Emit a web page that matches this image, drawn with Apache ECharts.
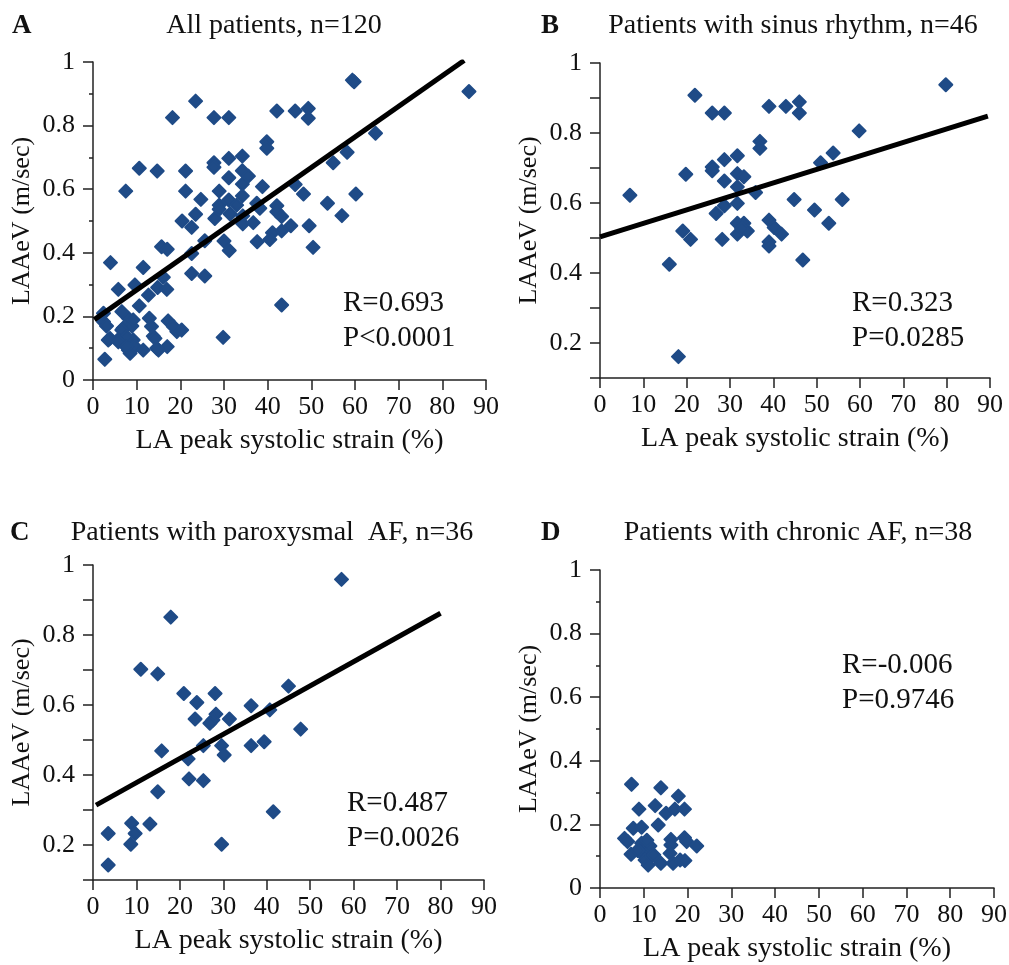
<!DOCTYPE html>
<html>
<head>
<meta charset="utf-8">
<script src="https://cdn.jsdelivr.net/npm/echarts@6/dist/echarts.min.js"></script>
<style>
html,body{margin:0;padding:0;background:#fff;}
#chart{width:1009px;height:965px;}
</style>
</head>
<body>
<div id="chart"></div>
<script>
// ---------- DATA ----------
const titles = ['All patients, n=120', 'Patients with sinus rhythm, n=46', 'Patients with paroxysmal  AF, n=36', 'Patients with chronic AF, n=38'];
const panelLetters = ['A', 'B', 'C', 'D'];
const statsR = ['R=0.693', 'R=0.323', 'R=0.487', 'R=-0.006'];
const statsP = ['P<0.0001', 'P=0.0285', 'P=0.0026', 'P=0.9746'];
const xName = 'LA peak systolic strain (%)';
const yName = 'LAAeV (m/sec)';

const aPts = [
[7.5,0.594],[10.6,0.666],[14.7,0.657],[18.2,0.825],[23.5,0.877],[27.7,0.825],[31.1,0.825],[42.1,0.846],[46.3,0.846],[49.3,0.854],
[49.3,0.823],[39.8,0.749],[39.8,0.729],[21.2,0.657],[27.7,0.683],[27.7,0.669],[31.1,0.697],[34.2,0.704],[21.2,0.594],[24.7,0.568],
[28.9,0.594],[31.1,0.636],[34.2,0.658],[34.2,0.616],[35.6,0.641],[38.8,0.608],[34.2,0.579],[37.5,0.556],[42.1,0.548],[42.1,0.529],
[46.3,0.615],[48.2,0.585],[28.9,0.550],[31.1,0.566],[23.5,0.521],[20.4,0.500],
[59.4,0.943],[59.8,0.938],[86.1,0.907],[64.7,0.776],[58.2,0.716],[55.0,0.683],[60.2,0.585],[53.7,0.556],[57.0,0.517],[45.3,0.485],
[49.5,0.485],[50.4,0.417],[43.2,0.514],[43.2,0.469],[43.2,0.236],
[22.6,0.480],[27.9,0.508],[28.9,0.537],[31.4,0.522],[32.9,0.550],[34.3,0.516],[34.3,0.491],[36.7,0.495],[38.2,0.540],
[41.1,0.463],[40.5,0.442],[37.6,0.435],[30.0,0.437],[31.2,0.407],[25.6,0.438],[22.6,0.398],[22.6,0.335],[25.6,0.327],[15.7,0.419],
[17.0,0.411],[4.0,0.369],[11.5,0.354],[9.6,0.299],[5.8,0.285],[12.7,0.267],[14.8,0.291],[16.9,0.285],[16.1,0.323],[10.6,0.233],
[2.4,0.183],[3.1,0.170],[3.9,0.131],[2.7,0.065],[6.0,0.131],[6.9,0.163],[8.1,0.194],[8.9,0.170],[6.9,0.115],[8.1,0.094],
[8.5,0.084],[9.2,0.126],[9.6,0.105],[11.5,0.094],[12.9,0.194],[13.4,0.168],[13.8,0.138],[15.0,0.094],[17.0,0.105],[17.2,0.186],
[19.2,0.152],[20.3,0.157],[29.8,0.134],
[6.6,0.215],[6.6,0.157],[9.2,0.189],[7.7,0.136],[3.5,0.126],[5.8,0.120],[7.7,0.105],[14.2,0.131],[14.6,0.100],[18.4,0.168],[2.4,0.210]
];
const bPts = [
[21.9,0.908],[25.9,0.857],[28.7,0.857],[39.0,0.876],[42.9,0.876],[46.0,0.889],[46.0,0.857],
[36.9,0.776],[36.9,0.756],[28.7,0.724],[31.7,0.735],[25.9,0.703],[25.9,0.692],[19.8,0.682],[6.9,0.622],
[28.7,0.663],[31.7,0.684],[33.2,0.675],[31.7,0.646],[35.9,0.630],[44.8,0.610],[31.7,0.599],[28.7,0.592],[26.8,0.570],
[39.0,0.551],[40.2,0.530],[41.9,0.511],[31.7,0.542],[33.2,0.542],[31.7,0.511],[34.0,0.520],[32.7,0.527],
[39.0,0.489],[39.0,0.477],[19.1,0.520],[20.9,0.496],[28.2,0.496],[16.0,0.425],[18.1,0.161],
[79.8,0.938],[59.8,0.806],[53.8,0.743],[50.9,0.715],[55.9,0.610],[49.5,0.580],[52.8,0.542],[46.8,0.437]
];
const cPts = [
[17.9,0.851],[11.0,0.702],[14.9,0.689],[20.9,0.633],[23.9,0.607],[28.1,0.633],[36.4,0.598],[40.7,0.586],[45.0,0.654],
[23.5,0.560],[28.3,0.574],[27.6,0.557],[26.9,0.548],[31.4,0.560],[47.8,0.531],[15.8,0.469],[25.4,0.484],[29.6,0.484],
[30.2,0.457],[21.9,0.446],[36.4,0.484],[39.4,0.495],[22.1,0.389],[25.4,0.384],[14.9,0.352],[41.5,0.295],
[8.9,0.262],[9.7,0.233],[13.1,0.260],[3.5,0.233],[8.7,0.202],[29.6,0.202],[3.5,0.143],[57.2,0.959]
];
const dPts = [
[7.2,0.326],[13.9,0.315],[17.9,0.289],[8.9,0.248],[12.6,0.259],[15.1,0.235],[17.1,0.248],[19.3,0.248],
[7.6,0.188],[9.5,0.191],[13.3,0.198],[5.6,0.156],[6.3,0.146],[9.5,0.141],[10.3,0.125],[16.2,0.153],
[16.2,0.135],[19.3,0.158],[19.8,0.146],[22.1,0.132],[7.1,0.106],[9.5,0.109],[11.3,0.114],[10.3,0.088],
[11.0,0.072],[13.9,0.078],[16.0,0.109],[16.7,0.078],[18.3,0.088],[19.4,0.086],[11.8,0.099],[9.1,0.125],
[11.4,0.132],[12.3,0.104],[10.7,0.150],[8.6,0.118]
];
const aFit = [[0.3, 0.190], [85, 1.005]];
const bFit = [[0, 0.503], [89.5, 0.848]];
const cFit = [[0.7, 0.314], [80, 0.862]];

// ---------- LAYOUT ----------
const FONT = "'Liberation Serif','Times New Roman',serif";
const MARK = '#1f4b87';
const grids = [
  {left: 93, top: 62, width: 393, height: 318},
  {left: 600, top: 63, width: 390, height: 315},
  {left: 93, top: 565, width: 391, height: 315},
  {left: 600, top: 570, width: 394, height: 318}
];
const yMins = [0, 0.1, 0.1, 0];

function xAxisFor(i) {
  return {
    gridIndex: i, type: 'value', min: 0, max: 90, interval: 10,
    name: xName, nameLocation: 'middle', nameGap: 47,
    nameTextStyle: {fontFamily: FONT, fontSize: 28, color: '#111'},
    axisLine: {show: true, onZero: false, lineStyle: {color: '#222', width: 1.5}},
    axisTick: {show: true, length: 10, inside: false, lineStyle: {color: '#222', width: 1.5}},
    axisLabel: {show: true, margin: 14, fontFamily: FONT, fontSize: 26, color: '#111', hideOverlap: false},
    splitLine: {show: false}
  };
}
function yAxisFor(i) {
  const mn = yMins[i];
  const base = {
    gridIndex: i, type: 'value', max: 1,
    name: yName, nameLocation: 'middle', nameGap: 58, nameRotate: 90,
    nameTextStyle: {fontFamily: FONT, fontSize: 26, color: '#111'},
    axisLine: {show: true, onZero: false, lineStyle: {color: '#222', width: 1.5}},
    axisTick: {show: true, length: 10, lineStyle: {color: '#222', width: 1.5}},
    splitLine: {show: false}
  };
  if (mn === 0) {
    base.min = 0; base.interval = 0.2;
    base.minorTick = {show: true, splitNumber: 2, length: 4, lineStyle: {color: '#222', width: 1.5}};
    base.axisLabel = {margin: 18, fontFamily: FONT, fontSize: 26, color: '#111', hideOverlap: false,
      formatter: v => { const k = Math.round(v * 10); return k === 10 ? '1' : k === 0 ? '0' : (k / 10).toFixed(1); }};
  } else {
    base.min = 0.1; base.interval = 0.1;
    base.axisLabel = {margin: 18, fontFamily: FONT, fontSize: 26, color: '#111', hideOverlap: false,
      formatter: v => { const k = Math.round(v * 10); if (k % 2) return ''; return k === 10 ? '1' : (k / 10).toFixed(1); }};
  }
  return base;
}

const scatterSets = [aPts, bPts, cPts, dPts];
const fitSets = [aFit, bFit, cFit, null];
const series = [];
scatterSets.forEach((pts, i) => {
  series.push({type: 'scatter', xAxisIndex: i, yAxisIndex: i, data: pts, symbol: 'diamond', symbolSize: [13, 13],
    itemStyle: {color: MARK, opacity: 1, borderColor: MARK, borderWidth: 2, borderJoin: 'round'}, z: 2, silent: true});
});
fitSets.forEach((f, i) => {
  if (!f) return;
  series.push({type: 'line', xAxisIndex: i, yAxisIndex: i, data: f, symbol: 'none', z: 3, silent: true,
    lineStyle: {color: '#000', width: 5}});
});

const titlePos = [[274, 26], [793, 26], [272, 533], [798, 533]];
const letterPos = [[12, 26], [541, 26], [10, 533], [541, 533]];
const statPos = [[343, 303], [852, 303], [347, 803], [842, 665]];

const graphic = [];
titles.forEach((t, i) => {
  graphic.push({type: 'text', x: titlePos[i][0], y: titlePos[i][1],
    style: {text: t, font: '28px ' + FONT, fill: '#111', textAlign: 'center', textVerticalAlign: 'middle', align: 'center', verticalAlign: 'middle'}});
  graphic.push({type: 'text', x: letterPos[i][0], y: letterPos[i][1],
    style: {text: panelLetters[i], font: 'bold 27px ' + FONT, fill: '#111', textAlign: 'left', textVerticalAlign: 'middle', align: 'left', verticalAlign: 'middle'}});
  graphic.push({type: 'text', x: statPos[i][0], y: statPos[i][1],
    style: {text: statsR[i], font: '29px ' + FONT, fill: '#111', textAlign: 'left', textVerticalAlign: 'middle', align: 'left', verticalAlign: 'middle'}});
  graphic.push({type: 'text', x: statPos[i][0], y: statPos[i][1] + 35,
    style: {text: statsP[i], font: '29px ' + FONT, fill: '#111', textAlign: 'left', textVerticalAlign: 'middle', align: 'left', verticalAlign: 'middle'}});
});

const chart = echarts.init(document.getElementById('chart'), null, {renderer: 'canvas'});
chart.setOption({
  animation: false,
  backgroundColor: '#fff',
  grid: grids.map(g => Object.assign({containLabel: false, outerBoundsMode: 'none'}, g)),
  xAxis: [0, 1, 2, 3].map(xAxisFor),
  yAxis: [0, 1, 2, 3].map(yAxisFor),
  series: series,
  graphic: graphic
});
</script>
</body>
</html>
